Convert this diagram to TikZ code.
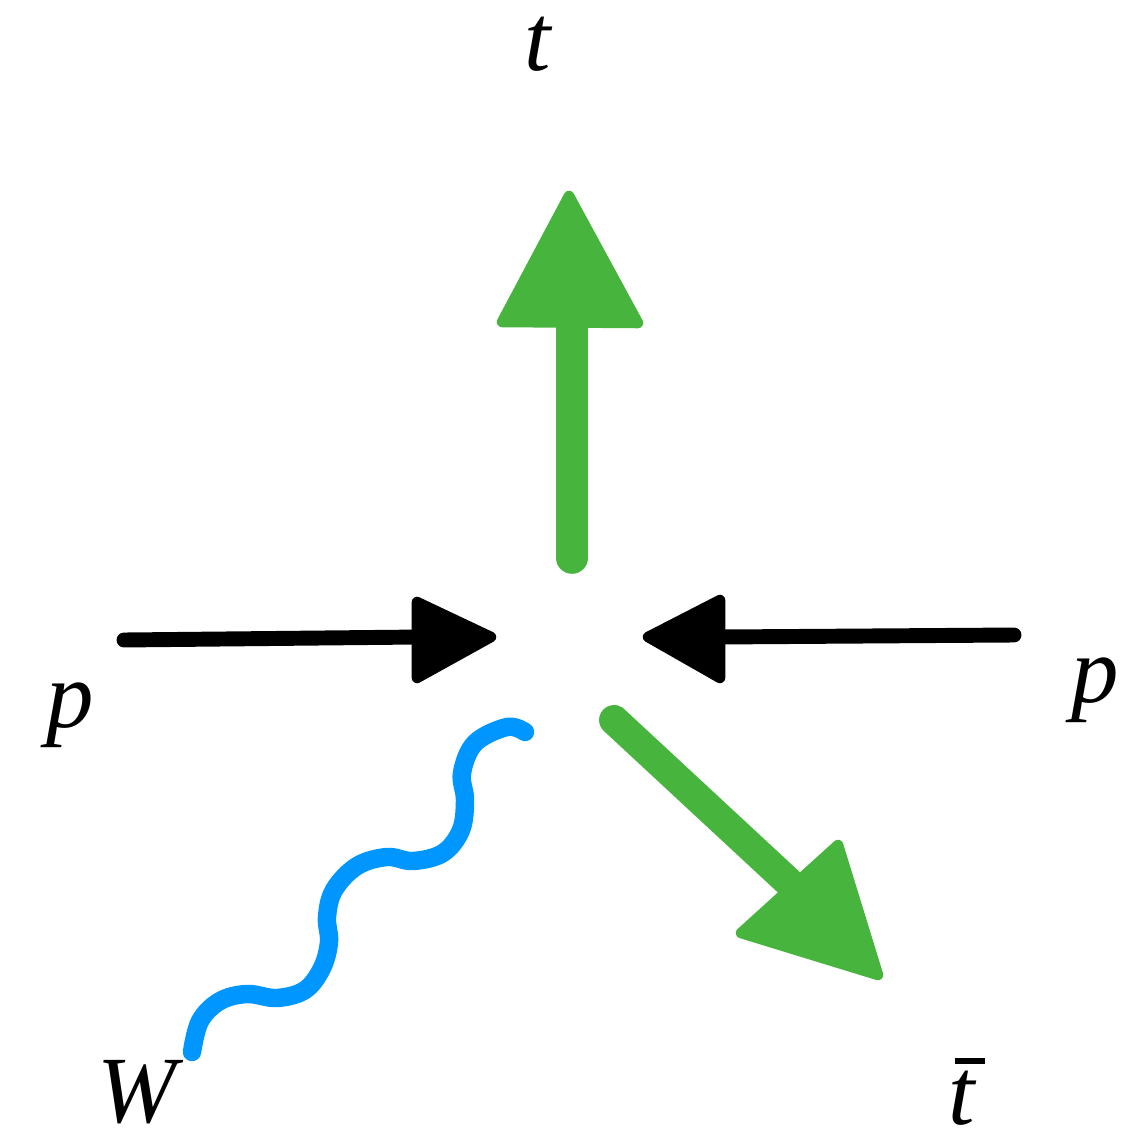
\documentclass[tikz,border=0pt]{standalone}
\usepackage{fontspec}
\setmainfont{Liberation Serif}
\usetikzlibrary{positioning, arrows.meta}
\definecolor{verde}{HTML}{47B53D}
\definecolor{azul}{HTML}{0096FF}
\tikzset{
    lbl/.style={font=\fontsize{54}{60}\selectfont\itshape, inner sep=0pt},
    shaft/.style={line width=#1, line cap=round},
    head/.style={line width=6pt, line join=round, draw=#1, fill=#1}
}

\begin{document}
\begin{tikzpicture}[x=0.02cm, y=-0.02cm]
                \useasboundingbox (0,0) rectangle (1123,1131);
                % labels
                \node[lbl] (t) at (538,44) {t};
                \node[lbl] (pl) at (70,715) {p};
                \node[lbl] (pr) at (1095,690) {p};
                \node[lbl] (w) at (137,1092) {W};
                \node[lbl, anchor=base] (tb) at (962,1124) {\rlap{\kern0.07em\rule[0.63em]{0.31em}{0.065em}}t};
                % end points
                \coordinate (ts) at (572,558);
                \coordinate (te) at (572,322);
                \coordinate (ls) at (124,640);
                \coordinate (le) at (420,637);
                \coordinate (rs) at (1014,635);
                \coordinate (re) at (720,637);
                \coordinate (ds) at (614,720);
                \coordinate (de) at (795,888);
                % green top
                \draw[verde, shaft=18pt] (ts) -- (te);
                \filldraw[head=verde] (569,196) -- (638,323) -- (502,322) -- cycle;
                % black p p
                \draw[shaft=8.5pt] (ls) -- (le);
                \filldraw[head=black] (491,637) -- (417,678) -- (417,602) -- cycle;
                \draw[shaft=8.5pt] (rs) -- (re);
                \filldraw[head=black] (648,637) -- (720,600) -- (720,678) -- cycle;
                % green diagonal
                \draw[verde, shaft=17pt] (ds) -- (de);
                \filldraw[head=verde] (878,975) -- (741,933) -- (838,845) -- cycle;
                % W wave
                \draw[azul, line width=10.5pt, line cap=round, line join=round]
                    plot[smooth, tension=0.6] coordinates {(525,732) (507,727) (475,743) (462,773) (465,800)
                    (461,830) (443,853) (413,861) (387,857) (357,866) (334,890) (327,917) (329,942)
                    (322,968) (305,990) (277,998) (247,994) (220,1001) (200,1021) (192,1052)};
            \end{tikzpicture}
\end{document}
